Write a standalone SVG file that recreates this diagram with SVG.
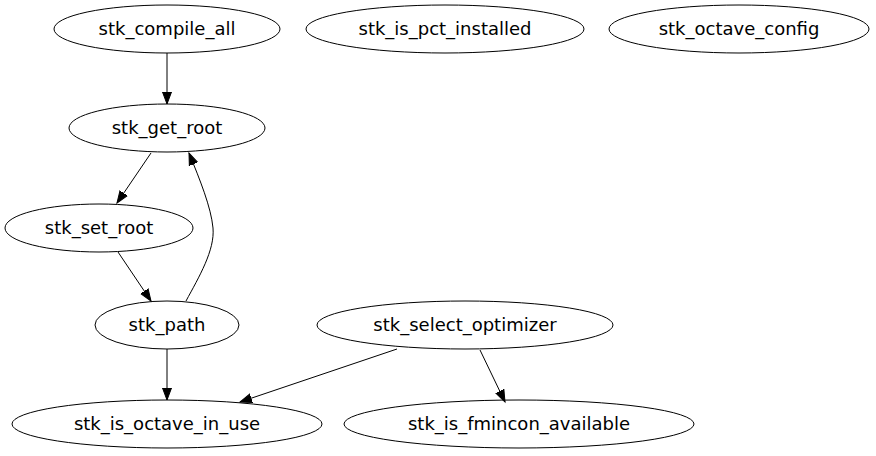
<svg xmlns="http://www.w3.org/2000/svg" width="876" height="456" viewBox="0 0 876 456">
<style>
.node ellipse{fill:none;stroke:#000;stroke-width:1}
.node text{font-family:"DejaVu Sans",sans-serif;font-size:18px;text-anchor:middle;fill:#000}
.edge{fill:none;stroke:#000;stroke-width:1}
</style>
<defs>
<marker id="arr" markerUnits="userSpaceOnUse" markerWidth="14" markerHeight="12" refX="12" refY="0" viewBox="0 -6 14 12" orient="auto">
<path d="M0,-4.5 L12,0 L0,4.5 z" fill="#000" stroke="#000" stroke-width="1"/>
</marker>
</defs>
<rect width="876" height="456" fill="#fff"/>
<g id="connectors">
<path class="edge" d="M167,53 L167,104" marker-end="url(#arr)"/>
<path class="edge" d="M151,153 L117,203" marker-end="url(#arr)"/>
<path class="edge" d="M118,252 L151,301" marker-end="url(#arr)"/>
<path class="edge" d="M186,301 C199,277 215,250 213,228 C211,207 200,180 189,153" marker-end="url(#arr)"/>
<path class="edge" d="M167,349 L167,400" marker-end="url(#arr)"/>
<path class="edge" d="M397,349 L240,402" marker-end="url(#arr)"/>
<path class="edge" d="M480,350 L505,402" marker-end="url(#arr)"/>
</g>
<g id="stk_compile_all" class="node"><ellipse cx="167" cy="29" rx="113" ry="24"/><text x="167" y="35">stk_compile_all</text></g>
<g id="stk_is_pct_installed" class="node"><ellipse cx="445" cy="29" rx="139" ry="24"/><text x="445" y="35">stk_is_pct_installed</text></g>
<g id="stk_octave_config" class="node"><ellipse cx="739" cy="29" rx="130" ry="24"/><text x="739" y="35">stk_octave_config</text></g>
<g id="stk_get_root" class="node"><ellipse cx="167" cy="128" rx="98" ry="24"/><text x="167" y="134">stk_get_root</text></g>
<g id="stk_set_root" class="node"><ellipse cx="99" cy="228" rx="94" ry="24"/><text x="99" y="234">stk_set_root</text></g>
<g id="stk_path" class="node"><ellipse cx="167" cy="325" rx="72" ry="24"/><text x="167" y="331">stk_path</text></g>
<g id="stk_select_optimizer" class="node"><ellipse cx="465" cy="325" rx="148" ry="24"/><text x="465" y="331">stk_select_optimizer</text></g>
<g id="stk_is_octave_in_use" class="node"><ellipse cx="167" cy="424" rx="155" ry="24"/><text x="167" y="430">stk_is_octave_in_use</text></g>
<g id="stk_is_fmincon_available" class="node"><ellipse cx="519" cy="424" rx="175" ry="24"/><text x="519" y="430">stk_is_fmincon_available</text></g>
</svg>
